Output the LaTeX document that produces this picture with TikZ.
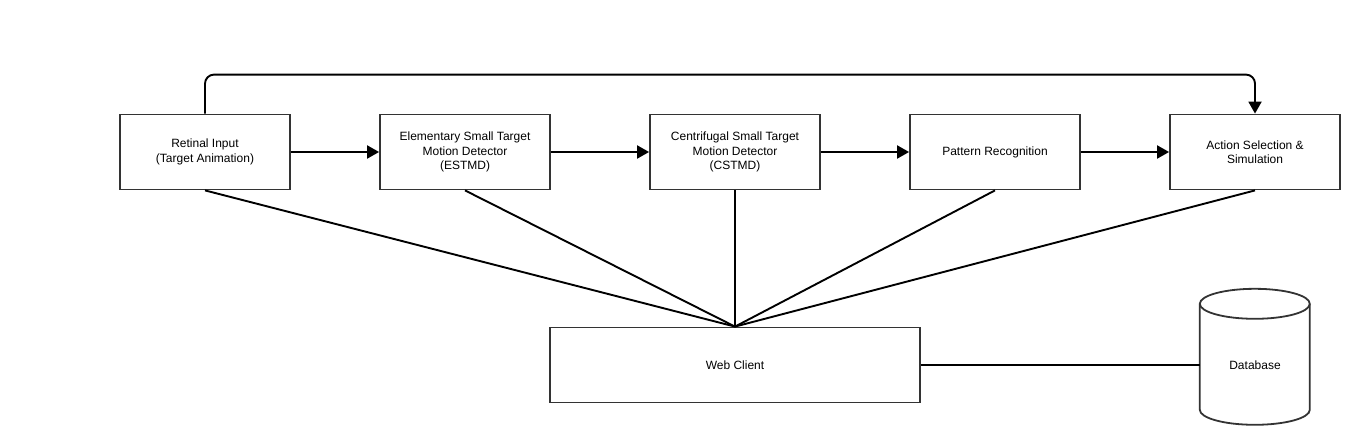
\documentclass[tikz,border=0pt]{standalone}
\usepackage{fontspec}
\setmainfont{Liberation Sans}
\usetikzlibrary{arrows.meta}
\begin{document}
\begin{tikzpicture}[x=1pt,y=-1pt,
  box/.style={draw=black!80, line width=1.8pt, minimum width=170pt, minimum height=75pt, inner sep=0pt, align=center, font=\fontsize{12}{14.5}\selectfont},
  link/.style={draw=black, line width=1.9pt},
  arr/.style={link, -{Triangle[length=12pt,width=13pt]}}]
\useasboundingbox (0,0) rectangle (1364,444);
\node[box] (ri) at (205,152) {Retinal Input\\(Target Animation)};
\node[box] (es) at (465,152) {Elementary Small Target\\Motion Detector\\(ESTMD)};
\node[box] (cs) at (735,152) {Centrifugal Small Target\\Motion Detector\\(CSTMD)};
\node[box] (pr) at (995,152) {Pattern Recognition};
\node[box] (as) at (1255,152) {Action Selection \&\\Simulation};
\node[box, minimum width=370pt] (wc) at (735,365) {Web Client};
\node[minimum width=110pt, minimum height=136pt, inner sep=0pt] (db) at (1255,357) {};
\node[font=\fontsize{12}{14.5}\selectfont] (dbl) at (1255,365) {Database};
% cylinder
\draw[draw=black!80, line width=1.8pt]
  (db.north west) ++(0,15) coordinate (tl) arc[start angle=180, end angle=0, x radius=55pt, y radius=15pt]
  -- ++(0,106) arc[start angle=0, end angle=-180, x radius=55pt, y radius=15pt] -- cycle;
\draw[draw=black!80, line width=1.8pt] (tl) arc[start angle=180, end angle=360, x radius=55pt, y radius=15pt];
% flow arrows
\draw[arr] (ri) -- (es);
\draw[arr] (es) -- (cs);
\draw[arr] (cs) -- (pr);
\draw[arr] (pr) -- (as);
\draw[arr, rounded corners=9pt] (ri.north) -- ++(0,-39) -| (as.north);
% links to web client
\foreach \n in {ri,es,cs,pr,as} \draw[link] (\n.south) -- (wc.north);
\draw[link] (wc.east) -- (wc.east -| db.west);
\end{tikzpicture}
\end{document}
